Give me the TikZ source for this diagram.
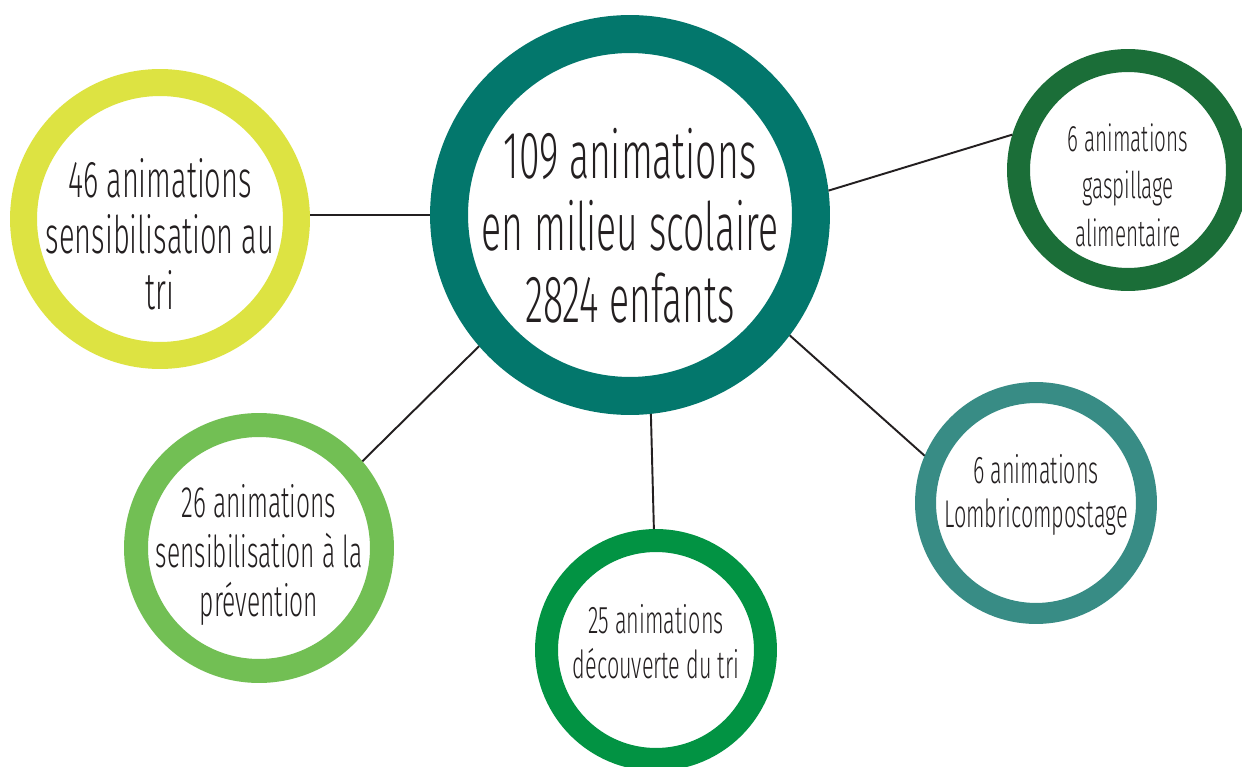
\documentclass[tikz,border=0pt]{standalone}
\usepackage{fontspec}
\setmainfont{Fira Sans}[UprightFont=* Light, FakeStretch=0.56]
\definecolor{cteal}{HTML}{03776C}
\definecolor{cyellow}{HTML}{DDE342}
\definecolor{cdark}{HTML}{1B6E38}
\definecolor{cmid}{HTML}{388C85}
\definecolor{cgreen}{HTML}{029343}
\definecolor{clight}{HTML}{72BF54}
\definecolor{ctext}{HTML}{231F20}
\tikzset{
  ring/.style={circle, draw=#1, fill=white, inner sep=0pt},
  lbl/.style={align=center, text=ctext, inner sep=0pt},
  link/.style={draw=ctext, line width=1.1pt}
}
\begin{document}
\begin{tikzpicture}[x=0.02cm, y=-0.02cm]
\useasboundingbox[fill=white] (0,0) rectangle (1242,767);
\node[ring=cteal, minimum size=7.24cm, line width=0.76cm] (c) at (630,215) {};
\node[ring=cyellow, minimum size=5.46cm, line width=0.54cm] (y) at (160,219) {};
\node[ring=cdark, minimum size=4.38cm, line width=0.46cm] (d) at (1128,170) {};
\node[ring=cmid, minimum size=4.42cm, line width=0.42cm] (m) at (1036,503) {};
\node[ring=cgreen, minimum size=4.38cm, line width=0.46cm] (g) at (656,650) {};
\node[ring=clight, minimum size=4.92cm, line width=0.48cm] (l) at (259,548) {};

\draw[link] (c.west) -- (c.west -| y.east);
\draw[link] (c.7) -- (d.163);
\draw[link] (c.-37) -- (m.157);
\draw[link] (c.-84) -- (g.91);
\draw[link] (c.221) -- (l.40);

\node[lbl, font=\fontsize{38}{41}\selectfont] (ct) at (630,226) {109 animations\\en milieu scolaire\\2824 enfants};
\node[lbl, font=\fontsize{29.5}{32}\selectfont] (yt) at (160,234) {46 animations\\sensibilisation au\\tri};
\node[lbl, font=\fontsize{21}{27}\selectfont] (dt) at (1128,185) {6 animations\\gaspillage\\alimentaire};
\node[lbl, font=\fontsize{22}{25.5}\selectfont] (mt) at (1036,495) {6 animations\\Lombricompostage};
\node[lbl, font=\fontsize{22}{25.5}\selectfont] (gt) at (656,642) {25 animations\\découverte du tri};
\node[lbl, font=\fontsize{25}{28}\selectfont] (lt) at (259,555) {26 animations\\sensibilisation à la\\prévention};
\end{tikzpicture}
\end{document}
